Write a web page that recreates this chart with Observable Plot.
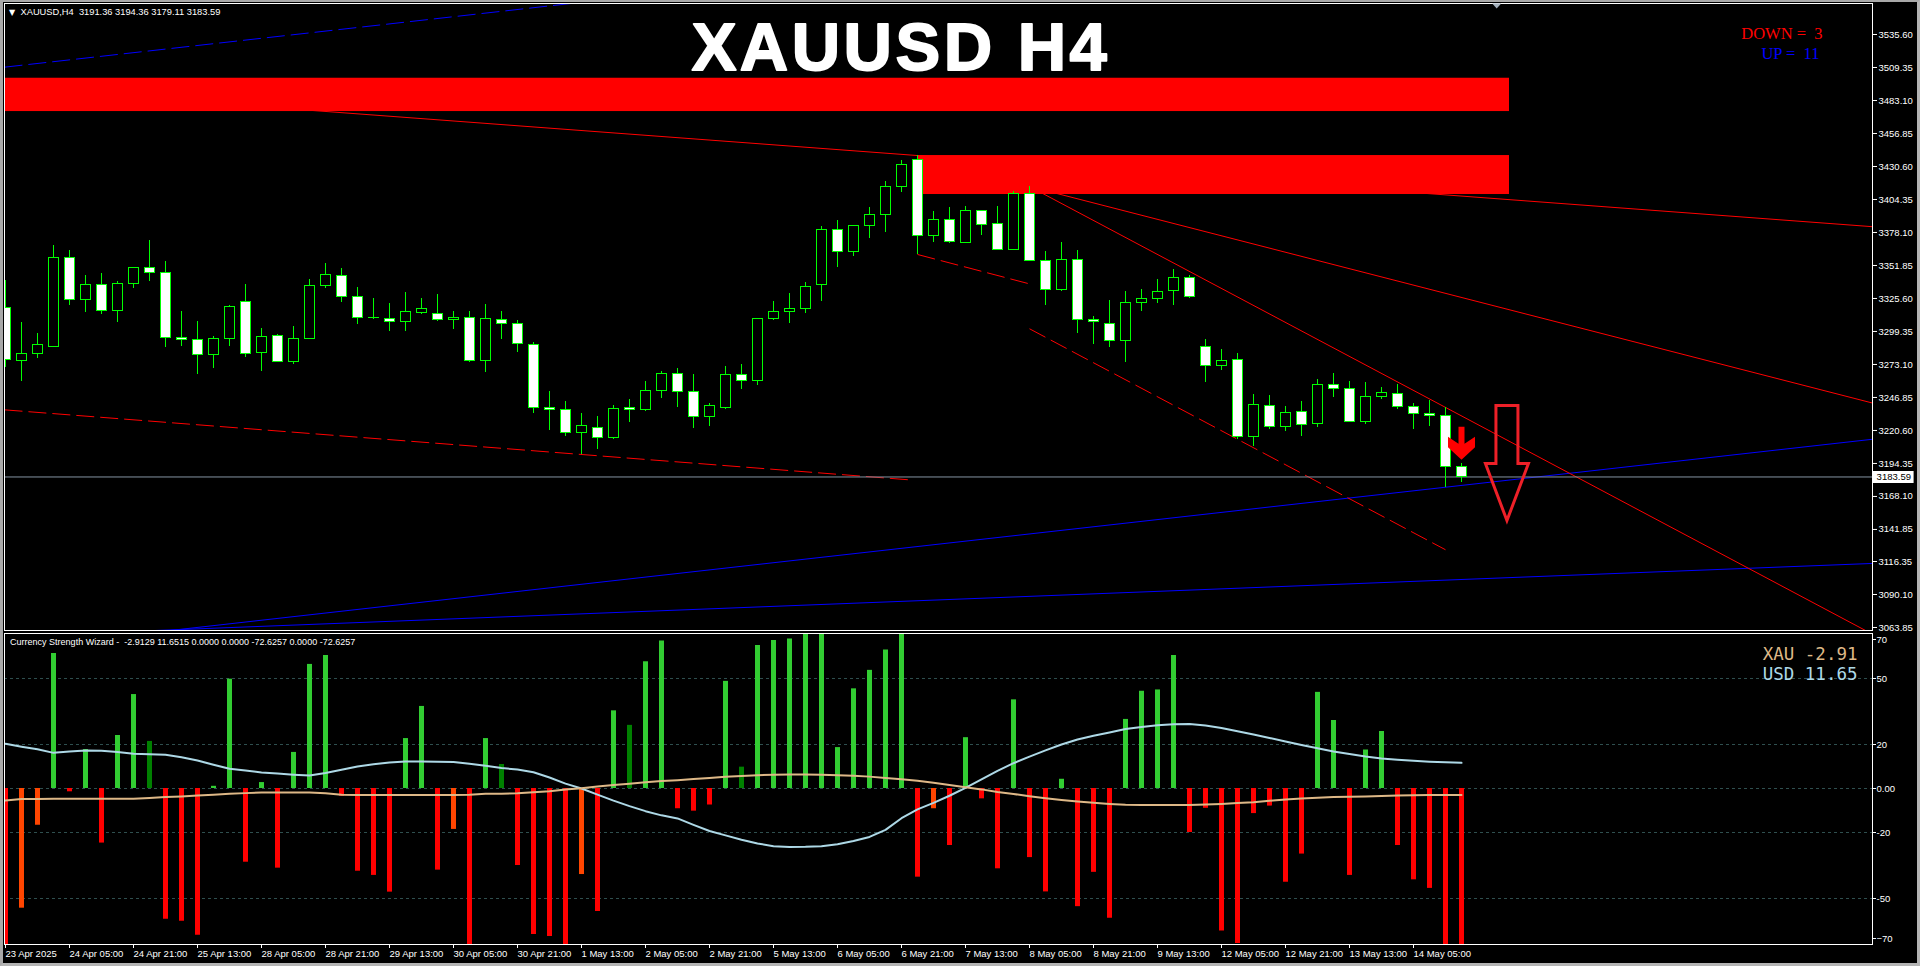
<!DOCTYPE html>
<html><head><meta charset="utf-8">
<script src="https://cdn.jsdelivr.net/npm/d3@7"></script>
<script src="https://cdn.jsdelivr.net/npm/@observablehq/plot@0.6"></script>
<style>
html,body{margin:0;padding:0;background:#000;}
#wrap{position:relative;width:1920px;height:966px;overflow:hidden;background:#000;}
#main{position:absolute;left:0;top:0;}
#ind{position:absolute;left:0;top:632px;}
#wrap svg{display:block;}
#border{position:absolute;left:0;top:0;width:1920px;height:966px;box-sizing:border-box;border-left:3px solid #a8a8a8;border-top:2px solid #a8a8a8;border-right:3px solid #b4b4b4;border-bottom:3px solid #b4b4b4;pointer-events:none;}
</style></head>
<body>
<div id="wrap"><div id="main"></div><div id="ind"></div><div id="border"></div></div>
<script>
// ---------- DATA ----------
const opens = [3318.2,3276.0,3281.6,3287.1,3357.9,3324.5,3336.5,3315.8,3337.2,3350.0,
3346.0,3294.3,3292.7,3280.8,3293.5,3322.9,3282.4,3295.9,3275.2,3293.5,
3335.7,3343.6,3326.9,3310.4,3309.4,3306.7,3313.9,3313.4,3308.6,3310.2,
3275.7,3308.3,3305.4,3288.7,3238.6,3237.0,3218.7,3222.7,3214.7,3238.6,
3237.0,3252.1,3265.6,3251.3,3231.4,3238.6,3264.8,3260.1,3309.4,3315.0,
3317.4,3336.4,3380.2,3362.7,3383.4,3392.1,3414.4,3435.9,3375.4,3388.2,
3369.9,3394.8,3385.0,3364.3,3408.8,3355.5,3332.5,3356.3,3308.6,3305.4,
3291.9,3322.2,3325.0,3331.4,3341.5,3287.1,3272.0,3276.8,3215.5,3240.2,
3223.5,3235.4,3225.9,3256.9,3253.7,3227.5,3247.4,3249.7,3239.4,3233.8,
3232.2,3191.36];
const highs = [3339.9,3306.5,3297.7,3367.7,3363.8,3343.9,3345.5,3339.1,3350.4,3371.7,
3355.0,3315.2,3307.3,3295.4,3320.0,3336.7,3301.7,3296.9,3303.3,3340.7,
3353.4,3349.4,3334.3,3325.6,3321.6,3330.3,3325.6,3328.8,3315.2,3315.2,
3320.8,3315.2,3307.8,3290.6,3251.6,3243.6,3234.1,3231.7,3240.4,3245.2,
3259.5,3267.5,3269.9,3265.1,3242.0,3271.5,3273.1,3309.6,3323.2,3329.6,
3338.3,3382.9,3387.6,3383.6,3398.0,3418.7,3435.4,3439.3,3394.8,3398.0,
3398.8,3395.6,3398.8,3410.4,3414.7,3363.0,3370.1,3363.8,3311.3,3324.0,
3331.1,3332.7,3340.4,3348.6,3343.9,3293.0,3285.0,3281.8,3249.2,3248.4,
3239.4,3243.6,3261.1,3265.9,3259.6,3258.8,3254.8,3257.2,3241.8,3244.4,
3238.6,3194.36];
const lows = [3270.9,3259.8,3278.1,3286.5,3320.3,3314.7,3313.1,3306.8,3333.8,3339.1,
3286.9,3287.7,3265.4,3270.2,3287.7,3278.9,3267.8,3275.0,3273.3,3293.0,
3333.8,3322.7,3305.2,3309.0,3299.6,3299.6,3313.1,3307.5,3301.2,3274.9,
3267.0,3293.2,3282.9,3234.4,3220.8,3216.0,3201.5,3205.2,3213.1,3227.2,
3235.9,3246.3,3239.1,3222.4,3224.0,3237.5,3253.4,3256.4,3308.1,3305.9,
3313.9,3323.5,3350.5,3359.3,3373.6,3378.4,3410.2,3360.6,3370.4,3369.6,
3369.5,3376.0,3364.0,3364.0,3355.2,3320.3,3330.9,3298.0,3289.2,3286.9,
3274.9,3315.4,3321.8,3320.0,3325.3,3259.0,3268.6,3213.1,3207.8,3221.1,
3220.0,3216.1,3223.2,3247.1,3227.3,3225.6,3245.5,3237.5,3221.6,3224.0,
3175.5,3179.11];
const closes = [3276.8,3281.6,3288.7,3357.9,3324.5,3336.5,3315.8,3337.2,3350.0,3346.0,
3294.3,3292.7,3280.8,3293.5,3318.9,3281.6,3295.1,3275.2,3293.5,3335.7,
3344.4,3326.9,3310.2,3309.9,3307.0,3315.0,3317.4,3308.6,3310.2,3275.7,
3309.4,3305.4,3289.5,3238.6,3237.0,3218.7,3224.3,3214.7,3237.8,3237.0,
3252.1,3265.6,3251.3,3231.4,3240.2,3264.8,3260.1,3309.4,3315.0,3317.4,
3334.9,3380.2,3362.7,3383.4,3392.1,3414.4,3431.9,3375.4,3388.2,3370.7,
3394.8,3384.2,3364.3,3408.8,3355.5,3332.5,3356.3,3308.6,3307.0,3291.6,
3322.2,3325.3,3331.1,3341.5,3326.6,3272.0,3276.0,3215.5,3241.0,3223.5,
3234.6,3225.1,3256.9,3253.7,3227.5,3247.4,3250.5,3239.4,3233.8,3232.2,
3191.7,3183.59];

const priceTicks = [3535.60,3509.35,3483.10,3456.85,3430.60,3404.35,3378.10,3351.85,3325.60,3299.35,3273.10,3246.85,3220.60,3194.35,3168.10,3141.85,3116.35,3090.10,3063.85];
const timeLabels = ["23 Apr 2025","24 Apr 05:00","24 Apr 21:00","25 Apr 13:00","28 Apr 05:00","28 Apr 21:00","29 Apr 13:00","30 Apr 05:00","30 Apr 21:00","1 May 13:00","2 May 05:00","2 May 21:00","5 May 13:00","6 May 05:00","6 May 21:00","7 May 13:00","8 May 05:00","8 May 21:00","9 May 13:00","12 May 05:00","12 May 21:00","13 May 13:00","14 May 05:00"];
const strengthTicks = [50, 20, 0, -20, -50];
const strengthEdges = [70, -70];

// Currency Strength Wizard histogram (signed) and colour class per bar
const histValues = [-72,-54.4,-16.7,61.4,-1.5,17.7,-24.8,24.1,42.7,21.4,
-59.4,-60.3,-66.7,1.0,49.7,-33.5,2.7,-36.2,16.4,56.4,
60.5,-3.5,-37.6,-39.5,-47.1,22.7,37.3,-37.1,-18.6,-72,
22.7,10.9,-35.0,-66.4,-67.3,-72,-39.1,-55.9,35.3,28.7,
57.6,67,-9.2,-10.3,-7.5,48.7,9.7,65,67.3,68,
72,72,18.6,45.3,53.7,63,72,-40.3,-9.2,-25.9,
23.1,-4.7,-36.5,40.3,-31.4,-47,4.2,-53.7,-38.1,-59,
31.4,44.2,44.8,60.4,-20,-9,-64.8,-70.5,-11.4,-8,
-42.6,-29.8,43.7,30.9,-39.5,17.5,25.9,-25.9,-41.5,-45.4,
-72,-72.6];
const histKinds = ["D","d","d","U","D","U","D","U","U","u",
"D","D","D","U","U","D","U","D","U","U",
"U","D","D","D","D","U","U","D","d","D",
"U","u","D","D","D","D","d","D","U","u",
"U","U","D","D","D","U","u","U","U","U",
"U","U","U","U","U","U","U","D","d","D",
"U","D","D","U","D","D","U","D","D","D",
"U","U","U","U","D","D","D","D","D","D",
"D","D","U","U","D","U","U","D","D","D",
"D","D"];
const usdStrength = [20.3,19.0,17.8,16.2,16.8,17.3,17.2,16.6,15.8,15.6,
15.3,14.2,12.7,10.8,9.0,8.2,7.3,6.8,6.3,5.9,
7.0,8.5,10.0,11.0,11.8,12.3,12.3,12.2,12.0,11.2,
10.3,9.3,8.6,7.4,5.0,2.2,0.0,-2.8,-5.5,-8.0,
-10.3,-12.2,-13.6,-16.5,-19.3,-21.3,-23.3,-25.0,-26.2,-26.6,
-26.5,-26.2,-25.3,-23.9,-22.0,-18.8,-13.5,-9.5,-6.5,-3.3,
0.3,4.2,8.0,11.5,14.5,17.3,20.0,22.3,24.0,25.5,
27.0,28.0,28.7,29.2,29.3,28.6,27.5,26.0,24.5,23.0,
21.4,19.8,18.3,16.8,15.7,14.5,13.6,13.1,12.6,12.2,
11.9,11.65];
const xauStrength = [-5.5,-4.8,-4.8,-4.7,-4.7,-4.7,-4.7,-4.7,-4.7,-4.3,
-3.9,-3.6,-3.2,-2.8,-2.4,-2.1,-1.8,-1.8,-1.8,-1.8,
-2.2,-2.8,-3.0,-3.0,-3.0,-3.0,-3.0,-3.0,-3.0,-2.8,
-2.4,-2.4,-2.2,-1.7,-1.2,-0.5,0.1,0.9,1.6,2.2,
2.8,3.4,3.8,4.3,4.8,5.3,5.7,6.0,6.3,6.4,
6.4,6.3,6.0,5.8,5.4,4.8,4.2,3.5,2.6,1.6,
0.6,-0.4,-1.6,-2.5,-3.5,-4.4,-5.2,-5.9,-6.5,-7.0,
-7.4,-7.5,-7.5,-7.5,-7.5,-7.3,-7.0,-6.6,-6.2,-5.6,
-5.0,-4.5,-4.2,-3.9,-3.7,-3.6,-3.4,-3.2,-3.1,-3.0,
-3.0,-2.91];

// Drawing objects (bar index / price)
const zones = [{i1:-1, i2:94, p1:3474.3, p2:3500.8},{i1:57, i2:94, p1:3408.3, p2:3439.3}];
const redTrendLines = [{i1:-0.0625,p1:3493.4,i2:116.69,p2:3382.7},{i1:64,p1:3414.7,i2:116.69,p2:3058.5},{i1:64,p1:3414.7,i2:116.69,p2:3242.4}];
const redDashedLines = [{i1:-0.0625,p1:3237.0,i2:56.6,p2:3181.2},{i1:57,p1:3360.6,i2:64,p2:3337.2},{i1:64,p1:3301.5,i2:90,p2:3125.7}];
const blueTrendLines = [{i1:5,p1:3053.9,i2:116.69,p2:3213.6},{i1:5,p1:3059.3,i2:116.69,p2:3114.8}];
const blueDashedLines = [{i1:-0.0625,p1:3509.6,i2:36,p2:3561.2}];
const sellSignals = [{i:91, p:3197.2}];
const forecastArrows = [{i:93.84, p:3148.96}];
const lastClose = 3183.59;
const headerText = "XAUUSD,H4\u00a0\u00a03191.36 3194.36 3179.11 3183.59";
const indicatorText = "Currency Strength Wizard -\u00a0\u00a0-2.9129 11.6515 0.0000 0.0000 -72.6257 0.0000 -72.6257";

// ---------- BUILD ----------
const candles = opens.map((o, i) => ({i, o, h: highs[i], l: lows[i], c: closes[i]}));
const hist = histValues.map((v, i) => ({i, v, k: histKinds[i]}));
const usd = usdStrength.map((v, i) => ({i, v}));
const xau = xauStrength.map((v, i) => ({i, v}));
const tickIdx = timeLabels.map((_, j) => j * 4);
const kindColor = {U: "#32cd32", u: "#008000", D: "#ff0000", d: "#ff4500"};
const xDomain = [-1/16, 1867/16];
const font = "Liberation Sans, Arial, sans-serif";

const solidDownArrow = {draw(ctx) {
  ctx.moveTo(-3, -33); ctx.lineTo(3, -33); ctx.lineTo(3, -16);
  ctx.lineTo(13.5, -23); ctx.lineTo(13.5, -12.5); ctx.lineTo(0, 0);
  ctx.lineTo(-13.5, -12.5); ctx.lineTo(-13.5, -23); ctx.lineTo(-3, -16); ctx.closePath();
}};
const hollowDownArrow = {draw(ctx) {
  ctx.moveTo(-11, -115); ctx.lineTo(11, -115); ctx.lineTo(11, -57); ctx.lineTo(21.5, -57);
  ctx.lineTo(0, 0); ctx.lineTo(-21.5, -57); ctx.lineTo(-11, -57); ctx.closePath();
}};
const shiftMarker = {draw(ctx) { ctx.moveTo(-4.5, 0); ctx.lineTo(4.5, 0); ctx.lineTo(0, 5); ctx.closePath(); }};

const link = (data, o) => Plot.link(data, {x1: "i1", y1: "p1", x2: "i2", y2: "p2", strokeWidth: 1, clip: true, ...o});
const label = (txt, o) => Plot.text([txt], {lineAnchor: "middle", ...o});

const main = Plot.plot({
  width: 1920, height: 632,
  marginLeft: 4, marginRight: 48, marginTop: 3, marginBottom: 2,
  x: {type: "linear", domain: xDomain, axis: null},
  y: {type: "linear", domain: [3061.46, 3560.26], axis: null},
  color: {type: "identity"},
  style: {background: "#000", color: "#fff", fontFamily: font, fontSize: "9.5px", overflow: "visible"},
  marks: [
    link(blueTrendLines, {stroke: "#0000ff"}),
    link(blueDashedLines, {stroke: "#0000ff", strokeDasharray: "18,6"}),
    link(redTrendLines, {stroke: "#ff0000"}),
    link(redDashedLines, {stroke: "#ff0000", strokeDasharray: "18,6"}),
    Plot.ruleY([lastClose], {stroke: "#8494a2", strokeWidth: 1}),
    Plot.rect(zones, {x1: "i1", x2: "i2", y1: "p1", y2: "p2", fill: "#ff0000", clip: true}),
    Plot.ruleX(candles, {x: "i", y1: "l", y2: "h", stroke: "#00ff00", strokeWidth: 1, clip: true, shapeRendering: "crispEdges"}),
    Plot.rect(candles, {x1: d => d.i - 5/16, x2: d => d.i + 5/16, y1: "o", y2: "c",
      fill: d => d.c < d.o ? "#ffffff" : "#000000", stroke: "#00ff00", strokeWidth: 1, clip: true, shapeRendering: "crispEdges"}),
    Plot.dot(sellSignals, {x: "i", y: "p", symbol: solidDownArrow, fill: "#ff0000", stroke: "none"}),
    Plot.dot(forecastArrows, {x: "i", y: "p", symbol: hollowDownArrow, fill: "none", stroke: "#ee2028", strokeWidth: 3}),
    Plot.frame({stroke: "#fff"}),
    Plot.axisY(priceTicks, {anchor: "right", tickSize: 4, tickPadding: 2, tickFormat: d => d.toFixed(2), label: null, color: "#fff", fontSize: 9.5}),
    Plot.ruleY([lastClose], {x1: xDomain[1], x2: xDomain[1] + 2.6, stroke: "#fff", strokeWidth: 12}),
    Plot.text([lastClose], {x: xDomain[1] + 1.33, y: d => d, text: d => d.toFixed(2), fill: "#000", fontSize: 9.5}),
    Plot.dot([93.2], {x: d => d, frameAnchor: "top", symbol: shiftMarker, fill: "#a4b0bc", stroke: "none"}),
    label("\u25BC", {frameAnchor: "top-left", dx: 4.5, dy: 8.5, fill: "#fff", fontSize: 8, fontFamily: "DejaVu Sans"}),
    label(headerText, {frameAnchor: "top-left", dx: 16, dy: 9, textAnchor: "start", fill: "#fff", fontSize: 9.3}),
    label("XAUUSD H4", {frameAnchor: "top-left", dx: 896.5, dy: 45.1, textAnchor: "middle", fill: "#fff", stroke: "#fff", strokeWidth: 1.8, fontSize: 67, fontWeight: "bold"}),
    label("DOWN =\u00a0\u00a03", {frameAnchor: "top-right", dx: -50, dy: 30.5, textAnchor: "end", fill: "#ff0000", fontSize: 16.5, fontFamily: "Liberation Serif, Times New Roman, serif"}),
    label("UP =\u00a0\u00a011", {frameAnchor: "top-right", dx: -53, dy: 50, textAnchor: "end", fill: "#0000ff", fontSize: 16.5, fontFamily: "Liberation Serif, Times New Roman, serif"})
  ]
});
d3.select(main).selectAll("text").filter(function() { return this.textContent === "XAUUSD H4"; }).attr("letter-spacing", "3.5");
document.getElementById("main").appendChild(main);

const ind = Plot.plot({
  width: 1920, height: 334,
  marginLeft: 4, marginRight: 48, marginTop: 1, marginBottom: 22,
  x: {type: "linear", domain: xDomain, axis: null},
  y: {type: "linear", domain: [-70.9, 70.45], axis: null},
  color: {type: "identity"},
  style: {background: "#000", color: "#fff", fontFamily: font, fontSize: "9.5px", overflow: "visible"},
  marks: [
    Plot.ruleY(strengthTicks, {stroke: "#2f4f4f", strokeDasharray: "3,3"}),
    Plot.ruleX(hist, {x: "i", y1: () => 0, y2: "v", stroke: d => kindColor[d.k], strokeWidth: 5, clip: true}),
    Plot.line(usd, {x: "i", y: "v", stroke: "#add8e6", strokeWidth: 2}),
    Plot.line(xau, {x: "i", y: "v", stroke: "#deb887", strokeWidth: 2}),
    Plot.frame({stroke: "#fff"}),
    Plot.axisY(strengthTicks, {anchor: "right", tickSize: 3, tickPadding: 1, tickFormat: d => d === 0 ? "0.00" : String(d), label: null, color: "#fff", fontSize: 9.5}),
    Plot.axisY([strengthEdges[0]], {anchor: "right", tickSize: 3, tickPadding: 1, label: null, color: "#fff", fontSize: 9.5, dy: 5}),
    Plot.axisY([strengthEdges[1]], {anchor: "right", tickSize: 3, tickPadding: 1, label: null, color: "#fff", fontSize: 9.5, dy: -4}),
    Plot.axisX(tickIdx, {anchor: "bottom", tickSize: 4, tickPadding: 2, tickFormat: i => timeLabels[Math.round(i / 4)], textAnchor: "start", label: null, color: "#fff", fontSize: 9.5}),
    label(indicatorText, {frameAnchor: "top-left", dx: 5.6, dy: 8.7, textAnchor: "start", fill: "#fff", fontSize: 9}),
    label("XAU -2.91", {frameAnchor: "top-right", dx: -15, dy: 20.5, textAnchor: "end", fill: "#deb887", fontSize: 17.5, fontFamily: "DejaVu Sans Mono, monospace"}),
    label("USD 11.65", {frameAnchor: "top-right", dx: -15, dy: 41, textAnchor: "end", fill: "#add8e6", fontSize: 17.5, fontFamily: "DejaVu Sans Mono, monospace"})
  ]
});
document.getElementById("ind").appendChild(ind);
</script>
</body></html>
